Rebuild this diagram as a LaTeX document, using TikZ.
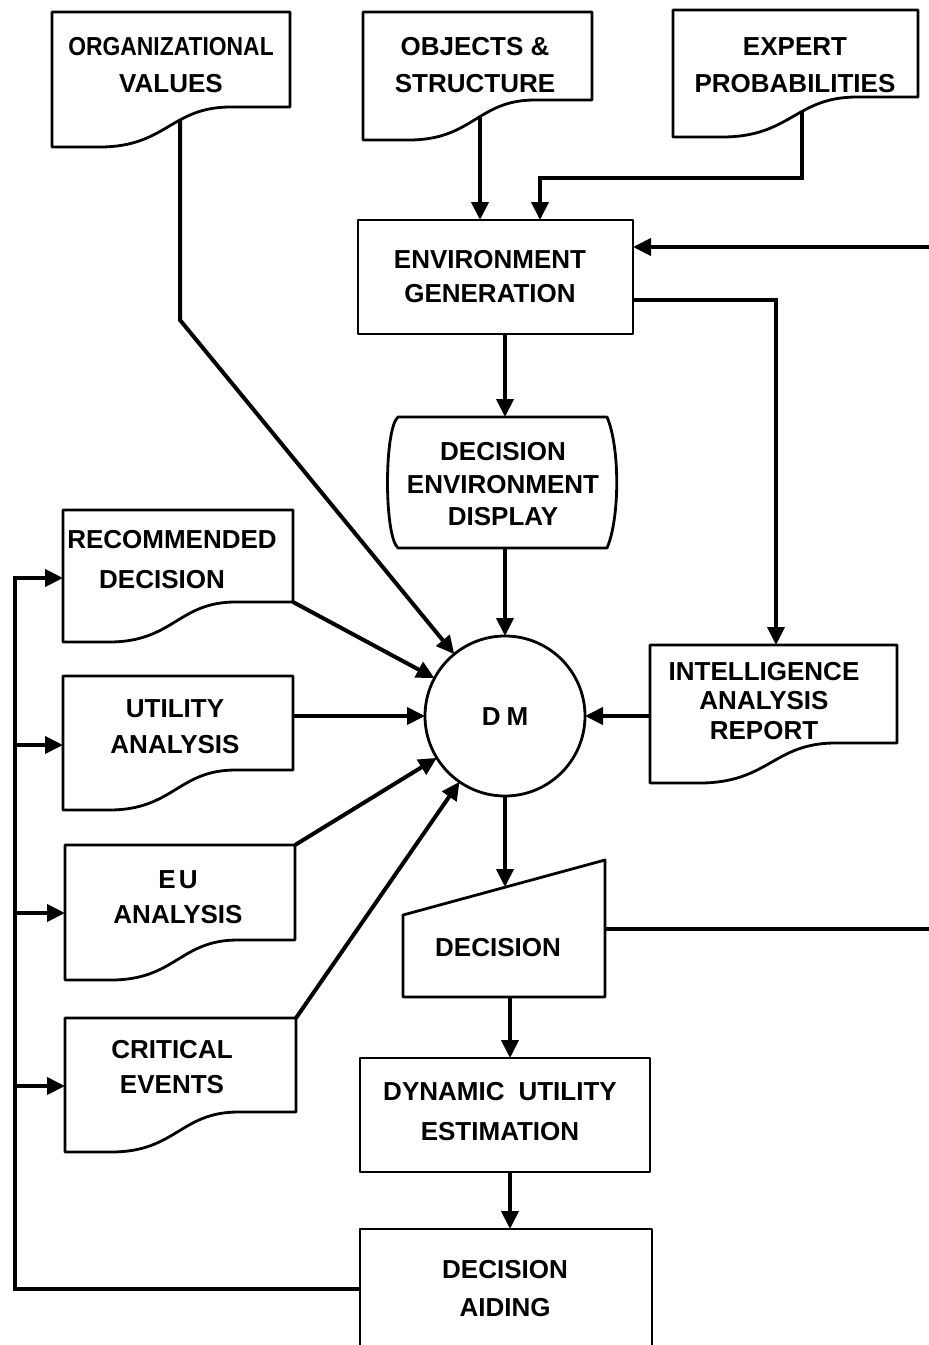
\documentclass[tikz,border=0pt]{standalone}
\usepackage{fontspec}
\setmainfont{Liberation Sans}
\usetikzlibrary{arrows.meta,calc}
\pgfdeclarelayer{bg}
\pgfdeclarelayer{mid}
\pgfsetlayers{bg,mid,main}
\newcommand\mydocshape[1]{%
  \begin{pgfonlayer}{mid}
  \draw[boxline,fill=white] (#1.north west) -- (#1.north east) -- (#1.south east)
    -- ($(#1.south east)!0.25!(#1.south west)$)
    .. controls ($(#1.south east)!0.5!(#1.south west)$) and ($(#1.south east)!0.52!(#1.south west)+(0,40)$)
    .. ($(#1.south east)!0.8!(#1.south west)+(0,40)$) -- ($(#1.south west)+(0,40)$) -- cycle;
  \end{pgfonlayer}}
\begin{document}
\begin{tikzpicture}[x=1pt,y=-1pt,
  conn/.style={line width=4pt,-{Triangle[length=18pt,width=17pt]}},
  plain/.style={line width=4pt},
  boxline/.style={line width=2.8pt,line join=round},
  lbl/.style={font=\bfseries\fontsize{26}{36}\selectfont,align=center,inner sep=0pt},
  shp/.style={inner sep=0pt,outer sep=0pt},
  rbox/.style={shp,draw,fill=white,boxline}]
\useasboundingbox (0,0) rectangle (929,1345);
\clip (0,0) rectangle (929,1345);
\begin{pgfonlayer}{bg}
  \fill[white] (0,0) rectangle (929,1345);
\end{pgfonlayer}

% document shapes
\node[shp,minimum width=238pt,minimum height=95pt] (org) at (171,59.5) {};
\node[shp,minimum width=229pt,minimum height=88pt] (obj) at (477.5,56) {};
\node[shp,minimum width=245pt,minimum height=87pt] (exp) at (795.5,53.5) {};
\node[shp,minimum width=230pt,minimum height=92pt] (rec) at (178,556) {};
\node[shp,minimum width=230pt,minimum height=94pt] (util) at (178,723) {};
\node[shp,minimum width=230pt,minimum height=95pt] (eu) at (180,892.5) {};
\node[shp,minimum width=231pt,minimum height=94pt] (crit) at (180.5,1065) {};
\node[shp,minimum width=247pt,minimum height=98pt] (intel) at (773.5,694) {};
\foreach \n in {org,obj,exp,rec,util,eu,crit,intel} {\mydocshape{\n}}

% rectangles
\node[rbox,minimum width=275pt,minimum height=114pt] (envgen) at (495.5,277) {};
\node[rbox,minimum width=290pt,minimum height=114pt] (due) at (505,1115) {};
\node[rbox,minimum width=292pt,minimum height=120pt] (da) at (506,1289) {};

% display
\node[shp,minimum width=209pt,minimum height=131pt] (disp) at (502.5,482.5) {};
\begin{pgfonlayer}{mid}
\draw[boxline,fill=white] (disp.north west) -- (disp.north east)
  .. controls +(13,30) and +(13,-30) .. (disp.south east) -- (disp.south west)
  .. controls +(-14,-12) and +(-14,12) .. (disp.north west) -- cycle;
\end{pgfonlayer}

% DM
\node[shp,draw,boxline,fill=white,circle,minimum size=160pt] (dm) at (505,716) {};

% decision (manual input)
\node[shp,minimum width=202pt,minimum height=97pt] (dec) at (504,948.5) {};
\begin{pgfonlayer}{mid}
\draw[boxline,fill=white] (dec.south west) -- (dec.south east) -- ($(dec.north east)+(0,-40)$)
  -- ($(dec.north west)+(0,15)$) -- cycle;
\end{pgfonlayer}

% texts
\node[lbl,font=\bfseries\fontsize{26}{37}\selectfont] (orgT) at (171,65.5) {\scalebox{0.88}[1]{ORGANIZATIONAL}\\VALUES};
\node[lbl,font=\bfseries\fontsize{26}{37}\selectfont] (objT) at (475,65.5) {OBJECTS \&\\STRUCTURE};
\node[lbl,font=\bfseries\fontsize{26}{37}\selectfont] (expT) at (795,65.5) {EXPERT\\PROBABILITIES};
\node[lbl,font=\bfseries\fontsize{26}{40}\selectfont] (recT) at (172,560) {RECOMMENDED\\[-0pt]\hspace*{-20pt}DECISION};
\node[lbl] (utilT) at (175,727) {UTILITY\\ANALYSIS};
\node[lbl,font=\bfseries\fontsize{26}{35}\selectfont] (euT) at (178,897.5) {E\hspace{3pt}U\\ANALYSIS};
\node[lbl,font=\bfseries\fontsize{26}{35}\selectfont] (critT) at (172,1067.5) {CRITICAL\\EVENTS};
\node[lbl,font=\bfseries\fontsize{26}{29.5}\selectfont] (intelT) at (764,701) {INTELLIGENCE\\ANALYSIS\\REPORT};
\node[lbl,font=\bfseries\fontsize{26}{32.5}\selectfont] (dispT) at (503,484.5) {DECISION\\ENVIRONMENT\\DISPLAY};
\node[lbl,font=\bfseries\fontsize{26}{34}\selectfont] (envT) at (490,277) {ENVIRONMENT\\GENERATION};
\node[lbl,font=\bfseries\fontsize{26}{40}\selectfont] (dueT) at (500,1112) {DYNAMIC\hspace{14pt}UTILITY\\ESTIMATION};
\node[lbl,font=\bfseries\fontsize{26}{38}\selectfont] (daT) at (505,1289) {DECISION\\AIDING};
\node[lbl] (decT) at (498,948) {DECISION};
\node[lbl] (dmT) at (505,717) {D\hspace{6pt}M};

% helper coordinates
\coordinate (orgbend) at (180,320);
\coordinate (x480) at (480,0);
\coordinate (expbend) at (802,178);
\coordinate (x540) at (540,0);
\coordinate (rin) at (929,247);
\coordinate (eo) at (776,300);
\coordinate (x505) at (505,0);
\coordinate (decin) at (505,887);
\coordinate (rout) at (929,929);
\coordinate (x510) at (510,0);
\coordinate (lx) at (15,0);
\coordinate (ra) at ([yshift=-22pt]rec.west);
\coordinate (ua) at ([yshift=-22pt]util.west);
\coordinate (ea) at ([yshift=-20.5pt]eu.west);
\coordinate (ca) at ([yshift=-21pt]crit.west);

\begin{pgfonlayer}{bg}
\draw[conn] (org.south -| orgbend) -- (orgbend) -- (dm);
\draw[conn] (obj.south -| x480) -- (envgen.north -| x480);
\draw[conn] (exp.south -| expbend) -- (expbend) -- (expbend -| x540) -- (envgen.north -| x540);
\draw[conn] (rin) -- (rin -| envgen.east);
\draw[conn] (envgen.east |- eo) -- (eo) -- (intel.north -| eo);
\draw[conn] (envgen.south -| x505) -- (disp.north -| x505);
\draw[conn] (disp.south -| dm) -- (dm.north);
\draw[conn] (rec.south east) -- (dm);
\draw[conn] (util.east |- dm) -- (dm.west);
\draw[conn] (eu.north east) -- (dm);
\draw[conn] (crit.north east) -- (dm);
\draw[conn] (intel.west |- dm) -- (dm.east);
\draw[conn] (dm.south) -- (decin);
\draw[plain] (dec.east |- rout) -- (rout);
\draw[conn] (dec.south -| x510) -- (due.north -| x510);
\draw[conn] (due.south -| x510) -- (da.north -| x510);
\draw[conn] (da.west) -- (da.west -| lx) -- (ra -| lx) -- (ra);
\draw[conn] (ua -| lx) -- (ua);
\draw[conn] (ea -| lx) -- (ea);
\draw[conn] (ca -| lx) -- (ca);
\end{pgfonlayer}
\end{tikzpicture}
\end{document}
